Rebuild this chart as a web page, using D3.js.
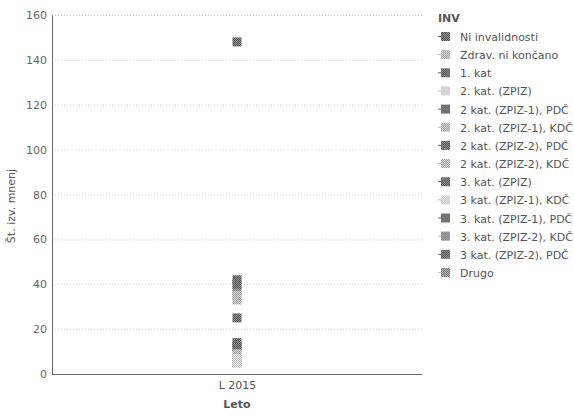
<!DOCTYPE html>
<html><head><meta charset="utf-8">
<script src="https://cdn.jsdelivr.net/npm/d3@7"></script>
<style>body{margin:0;background:#fff}svg{display:block}</style>
</head><body>
<script>
const categories = ["L 2015"];
const seriesNames = ["Ni invalidnosti","Zdrav. ni končano","1. kat","2. kat. (ZPIZ)","2 kat. (ZPIZ-1), PDČ","2. kat. (ZPIZ-1), KDČ","2 kat. (ZPIZ-2), PDČ","2 kat. (ZPIZ-2), KDČ","3. kat. (ZPIZ)","3 kat. (ZPIZ-1), KDČ","3. kat. (ZPIZ-1), PDČ","3. kat. (ZPIZ-2), KDČ","3 kat. (ZPIZ-2), PDČ","Drugo"];
const seriesValues = [148,35,42,7,40,33,14,9,25,5,12,37,12,5];
const seriesShade = ["dark","light","dark","pale","dark","light","dark","light","dark","pale","dark","mid","dark","mid"];
const yTicks = [0,20,40,60,80,100,120,140,160];

const W=574,H=415;
const svg=d3.select("body").append("svg").attr("width",W).attr("height",H);
const defs=svg.append("defs");
const shades={dark:["#9a9a9a","#4a4a4a"],mid:["#bdbdbd","#6e6e6e"],light:["#e2e2e2","#949494"],pale:["#f2f2f2","#b8b8b8"]};
Object.entries(shades).forEach(([k,[bg,fg]])=>{
  const p=defs.append("pattern").attr("id","p-"+k).attr("width",2).attr("height",2).attr("patternUnits","userSpaceOnUse");
  p.append("rect").attr("width",2).attr("height",2).attr("fill",bg);
  p.append("rect").attr("width",1).attr("height",1).attr("fill",fg);
  p.append("rect").attr("x",1).attr("y",1).attr("width",1).attr("height",1).attr("fill",fg);
});

const pL=52,pR=422,pT=15,pB=374;
const y=d3.scaleLinear().domain([0,160]).range([pB,pT]);
const x=d3.scalePoint().domain(categories).range([pL,pR]).padding(0.5);
const FONT="DejaVu Sans";

// grid
svg.append("g").selectAll("line").data(yTicks.filter(d=>d>0)).join("line")
  .attr("x1",pL).attr("x2",pR).attr("y1",d=>y(d)+0.5).attr("y2",d=>y(d)+0.5)
  .attr("stroke","#cfcfcf").attr("stroke-dasharray","1,2");

const yAxis=svg.append("g").attr("transform",`translate(${pL},0)`)
  .call(d3.axisLeft(y).tickValues(yTicks).tickSize(0).tickPadding(5));
yAxis.select(".domain").attr("stroke","#666");
yAxis.selectAll("text").attr("font-family",FONT).attr("font-size",11).attr("fill","#666");

const xAxis=svg.append("g").attr("transform",`translate(0,${pB})`)
  .call(d3.axisBottom(x).tickSize(0).tickPadding(7));
xAxis.select(".domain").attr("stroke","#666").attr("d",`M${pL},0.5H${pR}`);
xAxis.selectAll("text").attr("font-family",FONT).attr("font-size",11).attr("fill","#555");

svg.append("text").attr("x",x(categories[0])).attr("y",408).attr("text-anchor","middle")
  .attr("font-family",FONT).attr("font-size",11).attr("font-weight","600").attr("fill","#555").text("Leto");
svg.append("text").attr("transform",`translate(15,206) rotate(-90)`).attr("text-anchor","middle")
  .attr("font-family",FONT).attr("font-size",11).attr("fill","#555").text("Št. izv. mnenj");

// markers
const ms=9;
svg.append("g").selectAll("rect").data(seriesNames.map((n,i)=>({n,v:seriesValues[i],s:seriesShade[i]})).reverse()).join("rect")
  .attr("x",x(categories[0])-ms/2).attr("y",d=>y(d.v)-ms/2).attr("width",ms).attr("height",ms)
  .attr("fill",d=>`url(#p-${d.s})`);

// legend
const lg=svg.append("g");
lg.append("text").attr("x",438).attr("y",22).attr("font-family",FONT).attr("font-size",11).attr("font-weight","700").attr("fill","#555").text("INV");
const items=lg.selectAll("g.it").data(seriesNames).join("g").attr("class","it")
  .attr("transform",(d,i)=>`translate(441,${37+i*18.15})`);
items.append("rect").attr("x",0).attr("y",-5).attr("width",9).attr("height",9).attr("fill",(d,i)=>`url(#p-${seriesShade[i]})`);
items.append("line").attr("x1",-3).attr("x2",0).attr("y1",-0.5).attr("y2",-0.5).attr("stroke",(d,i)=>seriesShade[i]==="dark"?"#666":"#bbb");
items.append("text").attr("x",19).attr("y",4).attr("font-family",FONT).attr("font-size",11).attr("fill","#555").text(d=>d);
</script>
</body></html>
